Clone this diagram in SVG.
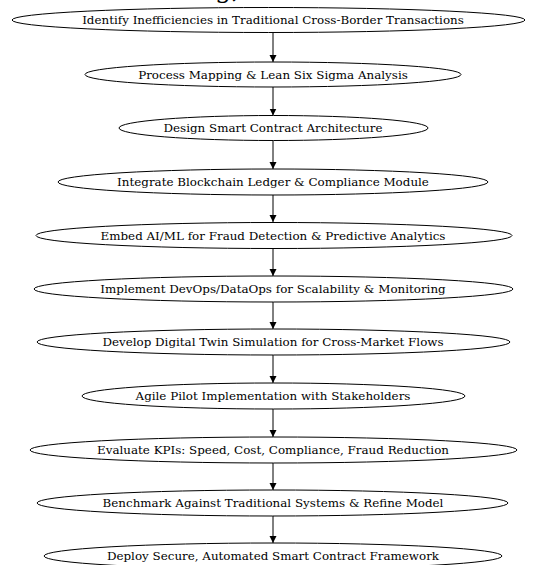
<svg xmlns="http://www.w3.org/2000/svg" width="539" height="565" viewBox="0 0 539 565">
<style>
.n ellipse{fill:#fff;stroke:#000;stroke-width:1}
.n text{font-family:"DejaVu Serif","Liberation Serif",serif;font-size:11.9px;fill:#000;text-anchor:middle}
.e line{stroke:#000;stroke-width:1}
.t{font-family:"DejaVu Serif","Liberation Serif",serif;font-size:26px;fill:#000}
</style>
<defs>
<marker id="a" markerWidth="8" markerHeight="8" refX="7" refY="3.5" orient="auto" markerUnits="userSpaceOnUse">
<path d="M0,0 L7,3.5 L0,7 Z" fill="#000"/>
</marker>
</defs>
<rect width="539" height="565" fill="#fff"/>
<text class="t" x="215" y="-2">g,</text>
<g class="e">
<line x1="273" y1="32" x2="273" y2="62" marker-end="url(#a)"/>
<line x1="273" y1="86.5" x2="273" y2="115.5" marker-end="url(#a)"/>
<line x1="273" y1="140.5" x2="273" y2="169" marker-end="url(#a)"/>
<line x1="273" y1="195" x2="273" y2="222" marker-end="url(#a)"/>
<line x1="273" y1="248" x2="273" y2="276" marker-end="url(#a)"/>
<line x1="273" y1="302" x2="273" y2="329" marker-end="url(#a)"/>
<line x1="273" y1="355" x2="273" y2="383" marker-end="url(#a)"/>
<line x1="273" y1="409" x2="273" y2="437" marker-end="url(#a)"/>
<line x1="273" y1="463" x2="273" y2="490" marker-end="url(#a)"/>
<line x1="273" y1="516" x2="273" y2="543" marker-end="url(#a)"/>
</g>
<g class="n" id="n1"><ellipse cx="268.5" cy="20" rx="256.5" ry="12.5"/><text x="273" y="24">Identify Inefficiencies in Traditional Cross-Border Transactions</text></g>
<g class="n" id="n2"><ellipse cx="273" cy="74.5" rx="188" ry="12.5"/><text x="273" y="78.5">Process Mapping &amp; Lean Six Sigma Analysis</text></g>
<g class="n" id="n3"><ellipse cx="273.5" cy="128" rx="154.5" ry="12.5"/><text x="273" y="132">Design Smart Contract Architecture</text></g>
<g class="n" id="n4"><ellipse cx="273" cy="182" rx="215" ry="13"/><text x="273" y="186">Integrate Blockchain Ledger &amp; Compliance Module</text></g>
<g class="n" id="n5"><ellipse cx="274" cy="235.5" rx="238" ry="13"/><text x="273" y="239.5">Embed AI/ML for Fraud Detection &amp; Predictive Analytics</text></g>
<g class="n" id="n6"><ellipse cx="273.5" cy="289" rx="239.5" ry="13"/><text x="273" y="293">Implement DevOps/DataOps for Scalability &amp; Monitoring</text></g>
<g class="n" id="n7"><ellipse cx="273.5" cy="342" rx="236.5" ry="13"/><text x="273" y="346">Develop Digital Twin Simulation for Cross-Market Flows</text></g>
<g class="n" id="n8"><ellipse cx="273.5" cy="396" rx="191.5" ry="13"/><text x="273" y="400">Agile Pilot Implementation with Stakeholders</text></g>
<g class="n" id="n9"><ellipse cx="273.5" cy="450" rx="243.5" ry="13"/><text x="273" y="454">Evaluate KPIs: Speed, Cost, Compliance, Fraud Reduction</text></g>
<g class="n" id="n10"><ellipse cx="272.5" cy="503" rx="235.5" ry="13"/><text x="273" y="507">Benchmark Against Traditional Systems &amp; Refine Model</text></g>
<g class="n" id="n11"><ellipse cx="273" cy="556" rx="229" ry="13"/><text x="273" y="560">Deploy Secure, Automated Smart Contract Framework</text></g>
</svg>
